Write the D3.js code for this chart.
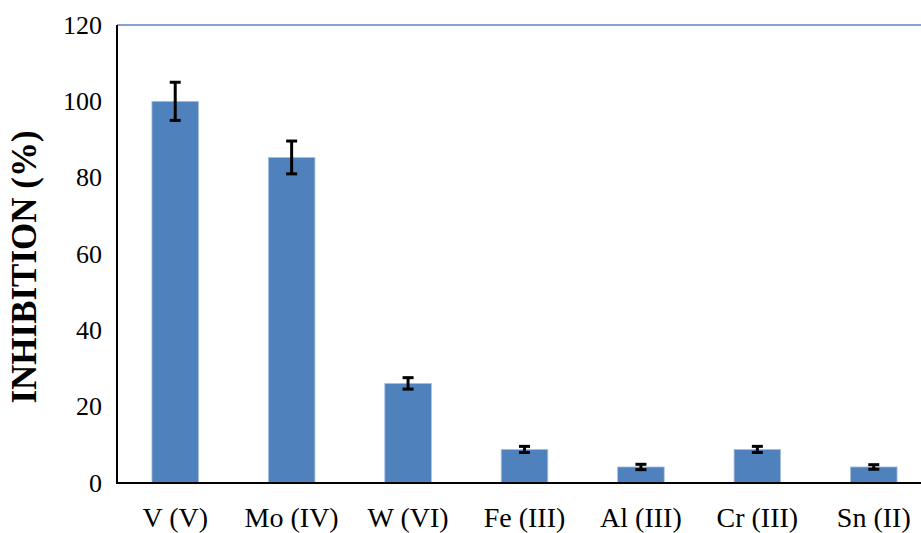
<!DOCTYPE html>
<html>
<head>
<meta charset="utf-8">
<script src="https://cdn.jsdelivr.net/npm/d3@7"></script>
<style>
  html, body { margin: 0; padding: 0; background: #fff; }
  svg { display: block; }
</style>
</head>
<body>
<svg id="chart" width="921" height="533"></svg>
<script>
// Metal ions tested and their inhibition (%) with standard error
const categories = ["V (V)", "Mo (IV)", "W (VI)", "Fe (III)", "Al (III)", "Cr (III)", "Sn (II)"];
const inhibition = [100, 85.3, 26.1, 8.8, 4.2, 8.8, 4.2];
const errors = [5, 4.3, 1.5, 0.8, 0.7, 0.8, 0.6];
const yTicks = [0, 20, 40, 60, 80, 100, 120];

const svg = d3.select("#chart");
const serif = "'Liberation Serif', 'Times New Roman', serif";

const plot = { left: 117, right: 932, top: 25, bottom: 483 };

const x = d3.scaleBand().domain(categories).range([plot.left, plot.right]).paddingInner(0.6).paddingOuter(0.3);
const y = d3.scaleLinear().domain([0, 120]).range([plot.bottom, plot.top]);

const data = categories.map((c, i) => ({ c, v: inhibition[i], e: errors[i] }));

// Top border of the plot area
svg.append("line")
  .attr("x1", plot.left).attr("x2", 921)
  .attr("y1", y(120)).attr("y2", y(120))
  .attr("stroke", "#5b86c0").attr("stroke-width", 1.5);

// Bars
svg.append("g").selectAll("rect").data(data).join("rect")
  .attr("x", d => x(d.c))
  .attr("width", x.bandwidth())
  .attr("y", d => y(d.v))
  .attr("height", d => y(0) - y(d.v))
  .attr("fill", "#4f81bd")
  .attr("stroke", "#a9c1e0")
  .attr("stroke-width", 0.8);

// Error bars
const eb = svg.append("g").attr("stroke", "#000").attr("stroke-width", 3);
data.forEach(d => {
  const cx = x(d.c) + x.bandwidth() / 2;
  eb.append("line").attr("x1", cx).attr("x2", cx).attr("y1", y(d.v + d.e)).attr("y2", y(d.v - d.e));
  [d.v + d.e, d.v - d.e].forEach(v => {
    eb.append("line").attr("x1", cx - 5.5).attr("x2", cx + 5.5).attr("y1", y(v)).attr("y2", y(v));
  });
});

// Y axis (no tick marks)
const yAxis = d3.axisLeft(y).tickValues(yTicks).tickSize(0).tickPadding(15);
const gy = svg.append("g").attr("transform", `translate(${plot.left},0)`).call(yAxis);
gy.select(".domain").attr("stroke", "#000").attr("stroke-width", 2).attr("d", `M0,${plot.top}V${plot.bottom + 1}`);
gy.selectAll("text").attr("font-family", serif).attr("font-size", 26).attr("fill", "#000");

// X axis (no tick marks)
const xAxis = d3.axisBottom(x).tickSize(0).tickPadding(24);
const gx = svg.append("g").attr("transform", `translate(0,${plot.bottom})`).call(xAxis);
gx.select(".domain").attr("stroke", "#000").attr("stroke-width", 2).attr("d", `M${plot.left - 1},0H921`);
gx.selectAll("text").attr("font-family", serif).attr("font-size", 28).attr("fill", "#000");

// Y axis title
svg.append("text")
  .attr("transform", `translate(36,267) rotate(-90)`)
  .attr("text-anchor", "middle")
  .attr("font-family", serif)
  .attr("font-weight", "bold")
  .attr("font-size", 35)
  .text("INHIBITION (%)");
</script>
</body>
</html>
